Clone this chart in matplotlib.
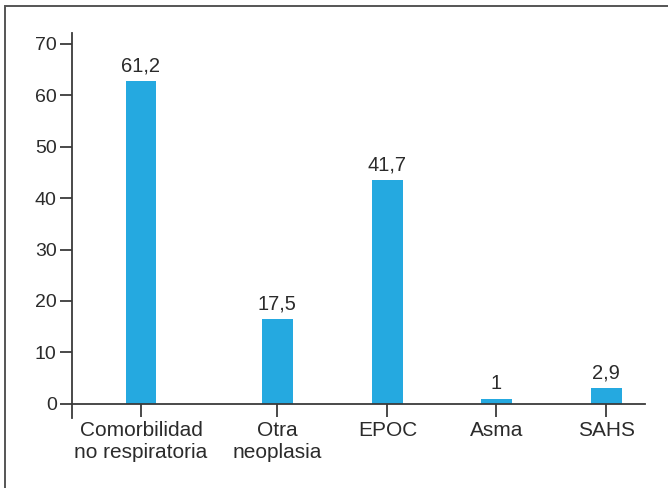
import matplotlib.pyplot as plt
from matplotlib.patches import Rectangle

categories = ['Comorbilidad\nno respiratoria', 'Otra\nneoplasia', 'EPOC', 'Asma', 'SAHS']
# bar heights as drawn in the picture, labels as printed above the bars
heights = [62.7, 16.5, 43.5, 1.0, 3.1]
value_labels = ['61,2', '17,5', '41,7', '1', '2,9']
positions = [0, 1.24, 2.24, 3.23, 4.23]

plt.rcParams['font.family'] = ['Liberation Sans', 'DejaVu Sans']
txt = '#2b2b2b'
axc = '#3a3a3a'

fig = plt.figure(figsize=(6.68, 4.88), dpi=100)
ax = fig.add_axes([72 / 668, 1 - 418 / 488, (645 - 72) / 668, (418 - 33) / 488])

bars = ax.bar(positions, heights, width=0.28, color='#25a9e0', zorder=2)
for b, lab in zip(bars, value_labels):
    ax.annotate(lab, (b.get_x() + b.get_width() / 2, b.get_height()),
                xytext=(0, 4), textcoords='offset points',
                ha='center', va='bottom', fontsize=14.5, color=txt)

ax.set_xlim(-0.627, 4.582)
ax.set_ylim(-2.75, 72.1)
ax.set_yticks(range(0, 71, 10))
ax.set_xticks(positions)
ax.set_xticklabels(categories)
ax.tick_params(axis='y', labelsize=14, labelcolor=txt, length=9, width=1.3,
               color=axc, pad=2)
ax.tick_params(axis='x', labelsize=15, labelcolor=txt, length=9, width=1.3,
               color=axc, pad=3)
for t in ax.get_xticklabels():
    t.set_linespacing(1.2)

ax.spines['top'].set_visible(False)
ax.spines['right'].set_visible(False)
ax.spines['bottom'].set_position(('data', 0))
for s in ('left', 'bottom'):
    ax.spines[s].set_color(axc)
    ax.spines[s].set_linewidth(1.3)

# frame around the figure (only top and left edges visible in the crop)
fig.patches.append(Rectangle((4.5 / 668, -0.1), 1.2, 1.1 - 6.5 / 488,
                             transform=fig.transFigure, fill=False,
                             edgecolor='#555555', linewidth=1.4))

plt.savefig('out.png', dpi=100)
